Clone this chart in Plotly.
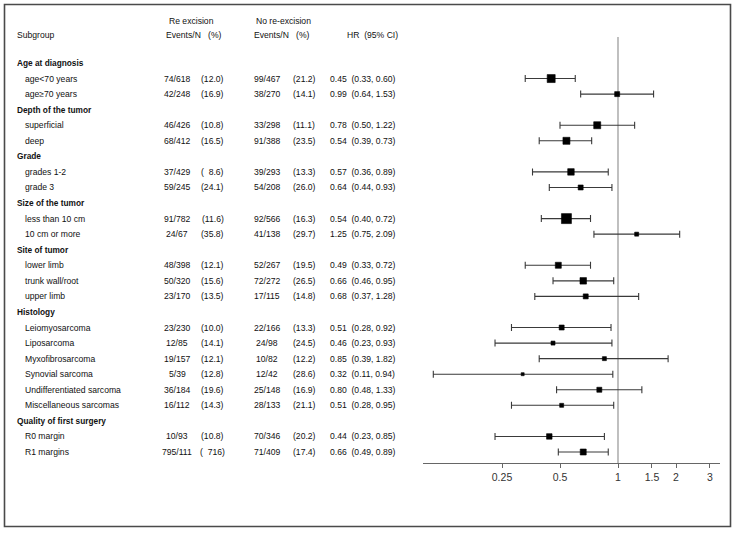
import plotly.graph_objects as go

# ---------------- data ----------------
groups = ["Age at diagnosis", "Depth of the tumor", "Grade", "Size of the tumor",
          "Site of tumor", "Histology", "Quality of first surgery"]
group_sizes = [2, 2, 2, 2, 3, 6, 2]
subgroups = ["age<70 years", "age≥70 years", "superficial", "deep", "grades 1-2", "grade 3",
             "less than 10 cm", "10 cm or more", "lower limb", "trunk wall/root", "upper limb",
             "Leiomyosarcoma", "Liposarcoma", "Myxofibrosarcoma", "Synovial sarcoma",
             "Undifferentiated sarcoma", "Miscellaneous sarcomas", "R0 margin", "R1 margins"]
re_events = ["74/618", "42/248", "46/426", "68/412", "37/429", "59/245", "91/782", "24/67",
             "48/398", "50/320", "23/170", "23/230", "12/85", "19/157", "5/39", "36/184",
             "16/112", "10/93", "795/111"]
re_pct = ["(12.0)", "(16.9)", "(10.8)", "(16.5)", "( 8.6)", "(24.1)", "(11.6)", "(35.8)",
          "(12.1)", "(15.6)", "(13.5)", "(10.0)", "(14.1)", "(12.1)", "(12.8)", "(19.6)",
          "(14.3)", "(10.8)", "( 716)"]
no_events = ["99/467", "38/270", "33/298", "91/388", "39/293", "54/208", "92/566", "41/138",
             "52/267", "72/272", "17/115", "22/166", "24/98", "10/82", "12/42", "25/148",
             "28/133", "70/346", "71/409"]
no_pct = ["(21.2)", "(14.1)", "(11.1)", "(23.5)", "(13.3)", "(26.0)", "(16.3)", "(29.7)",
          "(19.5)", "(26.5)", "(14.8)", "(13.3)", "(24.5)", "(12.2)", "(28.6)", "(16.9)",
          "(21.1)", "(20.2)", "(17.4)"]
hr = [0.45, 0.99, 0.78, 0.54, 0.57, 0.64, 0.54, 1.25, 0.49, 0.66, 0.68, 0.51, 0.46, 0.85,
      0.32, 0.80, 0.51, 0.44, 0.66]
ci_lo = [0.33, 0.64, 0.50, 0.39, 0.36, 0.44, 0.40, 0.75, 0.33, 0.46, 0.37, 0.28, 0.23, 0.39,
         0.11, 0.48, 0.28, 0.23, 0.49]
ci_hi = [0.60, 1.53, 1.22, 0.73, 0.89, 0.93, 0.72, 2.09, 0.72, 0.95, 1.28, 0.92, 0.93, 1.82,
         0.94, 1.33, 0.95, 0.85, 0.89]
tick_vals = [0.25, 0.5, 1, 1.5, 2, 3]
tick_text = ["0.25", "0.5", "1", "1.5", "2", "3"]

# marker sizes (style)
marker_px = [8, 5, 7, 7, 6.5, 5, 10, 4, 6, 6.5, 5, 5, 4, 4, 3, 5, 4, 5.5, 6]

# ---------------- layout helpers ----------------
W, H = 735, 533
ROW0, DY = 63.0, 15.56          # pixel y of first row and row spacing
def row_of_px(py):
    return (py - ROW0) / DY
def px_x(px):
    return px / W

FONT = "Liberation Sans, Arial, sans-serif"
FS = 8.6
TXT = "#111111"

# row indices
header_rows, sub_rows = [], []
r = 0
for g, n in zip(groups, group_sizes):
    header_rows.append(r)
    r += 1
    for _ in range(n):
        sub_rows.append(r)
        r += 1

fig = go.Figure()

fig.add_trace(go.Scatter(
    x=hr, y=sub_rows, mode="markers",
    marker=dict(symbol="square", size=marker_px, color="black", opacity=1,
                line=dict(width=0.6, color="black")),
    error_x=dict(type="data", symmetric=False,
                 array=[h - m for h, m in zip(ci_hi, hr)],
                 arrayminus=[m - l for m, l in zip(hr, ci_lo)],
                 color="#3a3a3a", thickness=1.1, width=3.5),
    hoverinfo="skip", showlegend=False,
))

ann = []
def add_text(x_px, row, text, anchor="left", bold=False, size=FS):
    if anchor == "left":
        x_px -= 2
    ann.append(dict(x=px_x(x_px), y=row, xref="paper", yref="y",
                    text=("<b>%s</b>" % text) if bold else text,
                    showarrow=False, xanchor=anchor, yanchor="middle",
                    font=dict(family=FONT, size=size, color=TXT)))

# column headers
add_text(191, row_of_px(21), "Re excision", "center")
add_text(283, row_of_px(21), "No re-excision", "center")
add_text(16.5, row_of_px(35), "Subgroup")
add_text(166, row_of_px(35), "Events/N&nbsp;&nbsp;&nbsp;(%)")
add_text(254, row_of_px(35), "Events/N&nbsp;&nbsp;&nbsp;(%)")
add_text(347, row_of_px(35), "HR&nbsp;&nbsp;(95% CI)")

for g, hrow in zip(groups, header_rows):
    add_text(16.5, hrow, g, bold=True, size=8.3)

for i, rr in enumerate(sub_rows):
    add_text(24.5, rr, subgroups[i])
    add_text(177, rr, re_events[i], "center")
    add_text(213, rr, re_pct[i].replace(" ", "&nbsp;&nbsp;"), "center")
    add_text(267, rr, no_events[i], "center")
    add_text(304, rr, no_pct[i], "center")
    add_text(330, rr, "%.2f&nbsp;&nbsp;(%.2f,&nbsp;%.2f)" % (hr[i], ci_lo[i], ci_hi[i]))

# axis mapping: x=1 at px 618, 58 px per doubling
PX1, PX_PER_LOG10 = 618.0, 58.0 / 0.30103
x_left_px, x_right_px = 423.0, 720.0
xr = [(x_left_px - PX1) / PX_PER_LOG10, (x_right_px - PX1) / PX_PER_LOG10]
axis_y_px = 463.0

shapes = [
    # frame
    dict(type="rect", xref="paper", yref="paper",
         x0=4.5 / W, x1=730.5 / W, y0=1 - 526.5 / H, y1=1 - 4.5 / H,
         line=dict(color="#4a4a4a", width=1.6), fillcolor="rgba(0,0,0,0)", layer="below"),
    # line of no effect
    dict(type="line", xref="x", yref="paper", x0=1, x1=1,
         y0=1 - axis_y_px / H, y1=1 - 37 / H,
         line=dict(color="#b0b0b0", width=1.6), layer="below"),
]

fig.update_layout(
    width=W, height=H,
    margin=dict(l=0, r=0, t=0, b=0, pad=0),
    paper_bgcolor="white", plot_bgcolor="white",
    showlegend=False,
    annotations=ann, shapes=shapes,
    xaxis=dict(type="log", range=xr, domain=[x_left_px / W, x_right_px / W],
               anchor="free", position=1 - axis_y_px / H,
               showgrid=False, zeroline=False, showline=True, linecolor="#666", linewidth=1.2,
               ticks="outside", ticklen=4, tickwidth=1, tickcolor="#666",
               tickvals=tick_vals, ticktext=tick_text,
               tickfont=dict(family=FONT, size=10.5, color="#333")),
    yaxis=dict(range=[row_of_px(H), row_of_px(0)], domain=[0, 1], visible=False,
               showgrid=False, zeroline=False),
)

fig.write_html("out.html", config={"displayModeBar": False})
